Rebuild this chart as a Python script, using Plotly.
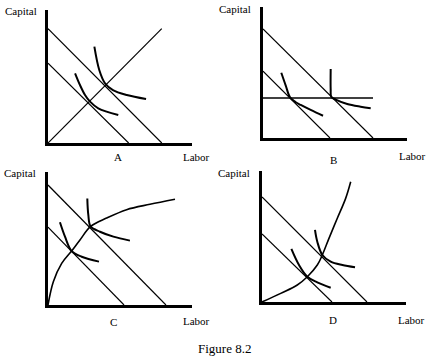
import plotly.graph_objects as go

W, H = 427, 360

# ---- Panel A (units 0-100 on each axis) ----
a_budget_out = ([0, 79], [86, 0])
a_budget_in = ([0, 56], [60, 0])
a_ray = ([0, 79], [0, 86])
a_iso_out = ([32.2, 35.6, 39.6, 45.1, 54.7, 68.1], [72.4, 54.9, 44.9, 39.8, 36.1, 33.1])
a_iso_in = ([18.8, 22.2, 25.7, 29.2, 34.9, 48.8], [52.4, 43.6, 36.1, 31.1, 26.1, 21.1])

# ---- Panel B ----
b_budget_out = ([0, 76.4], [83.2, 0])
b_budget_in = ([0, 46.5], [51.1, 0])
b_flat = ([0, 76.4], [30.5, 30.5])
b_iso_out = ([47.0, 47.0, 47.4, 50.5, 58.5, 67.8, 74.8], [52.7, 37.0, 31.5, 29.3, 26.0, 23.9, 22.7])
b_iso_in = ([12.7, 15.8, 18.8, 22.5, 26.2, 33.1, 41.7], [49.8, 40.0, 31.0, 27.5, 25.2, 21.4, 17.0])

# ---- Panel C ----
c_budget_out = ([0, 81.9], [90.2, 0])
c_budget_in = ([0, 52.8], [58.6, 0])
c_path = ([0, 3.7, 9.5, 16.4, 22.2, 29.6, 40.7, 54.6, 70.8, 88.2],
          [0, 17.5, 31.3, 40.6, 48.9, 59.1, 65.4, 71.7, 75.7, 79.5])
c_iso_out = ([27.3, 28.0, 29.6, 36.1, 45.4, 56.9], [80.1, 67.7, 59.1, 55.1, 51.4, 48.4])
c_iso_in = ([8.3, 11.8, 16.4, 23.4, 35.4], [62.2, 51.4, 40.6, 36.3, 32.6])

# ---- Panel D ----
d_budget_out = ([0, 72.9], [80.2, 0])
d_budget_in = ([0, 48.6], [51.9, 0])
d_path = ([0, 13, 24.5, 31.5, 38.4, 41.9, 46.5, 52.3, 58.1, 61.6],
          [0, 6.6, 13, 19.3, 28.2, 35.9, 48.6, 63.9, 79.1, 91.8])
d_iso_out = ([36.8, 38.4, 41.9, 47.7, 55.8, 64.6], [55, 46, 35.9, 30.8, 28.2, 26.5])
d_iso_in = ([20.4, 25.7, 31.5, 38.4, 47.7], [40.5, 28.2, 19.3, 15, 10.9])

panel_letters = ["A", "B", "C", "D"]
axis_title_x = "Labor"
axis_title_y = "Capital"
caption = "Figure 8.2"

fig = go.Figure()

def add(xy, idx, width, shape="linear"):
    suffix = "" if idx == 1 else str(idx)
    fig.add_trace(go.Scatter(
        x=xy[0], y=xy[1], mode="lines",
        line=dict(color="black", width=width, shape=shape, smoothing=1.0),
        xaxis="x" + suffix, yaxis="y" + suffix,
        hoverinfo="skip", showlegend=False))

# A
add(a_budget_out, 1, 1.2)
add(a_budget_in, 1, 1.2)
add(a_ray, 1, 1.2)
add(a_iso_out, 1, 2, "spline")
add(a_iso_in, 1, 2, "spline")
# B
add(b_budget_out, 2, 1.2)
add(b_budget_in, 2, 1.2)
add(b_flat, 2, 1.5)
add(b_iso_out, 2, 2, "spline")
add(b_iso_in, 2, 2, "spline")
# C
add(c_budget_out, 3, 1.2)
add(c_budget_in, 3, 1.2)
add(c_path, 3, 1.6, "spline")
add(c_iso_out, 3, 2, "spline")
add(c_iso_in, 3, 2, "spline")
# D
add(d_budget_out, 4, 1.2)
add(d_budget_in, 4, 1.2)
add(d_path, 4, 1.6, "spline")
add(d_iso_out, 4, 2, "spline")
add(d_iso_in, 4, 2, "spline")

# panel pixel boxes: (origin x, origin y, x end, y top)
boxes = [(48, 143, 192, 10), (263, 138, 407, 7), (48, 305, 192, 172), (262, 302, 406, 171)]

layout = dict(width=W, height=H, margin=dict(l=0, r=0, t=0, b=0),
              paper_bgcolor="white", plot_bgcolor="white", showlegend=False)
for i, (ox, oy, xe, yt) in enumerate(boxes, start=1):
    s = "" if i == 1 else str(i)
    common = dict(range=[0, 100], showgrid=False, zeroline=False, showticklabels=False,
                  ticks="", showline=True, linecolor="black", linewidth=3, fixedrange=True)
    layout["xaxis" + s] = dict(domain=[ox / W, xe / W], anchor="y" + s, **common)
    layout["yaxis" + s] = dict(domain=[1 - oy / H, 1 - yt / H], anchor="x" + s, **common)
fig.update_layout(**layout)

font = dict(family="Liberation Serif, Times New Roman, serif", size=11, color="black")

def txt(t, px, py, size=11):
    fig.add_annotation(text=t, x=px / W, y=1 - py / H, xref="paper", yref="paper",
                       showarrow=False, xanchor="center", yanchor="middle",
                       font=dict(font, size=size))

cap_pos = [(20.5, 11), (235.5, 8.5), (20, 173), (234, 172.5)]
lab_pos = [(196.5, 157), (412, 156), (196.5, 321), (411, 320)]
let_pos = [(118, 157), (333, 160), (113, 322), (333, 320)]
for i in range(4):
    txt(axis_title_y, *cap_pos[i], size=11)
    txt(axis_title_x, *lab_pos[i], size=11)
    txt(panel_letters[i], *let_pos[i], size=11)
txt(caption, 224.5, 348, size=13)

fig.write_html("out.html", config={"displayModeBar": False},
               post_script="document.body.style.margin='0';document.body.style.overflow='hidden';")
